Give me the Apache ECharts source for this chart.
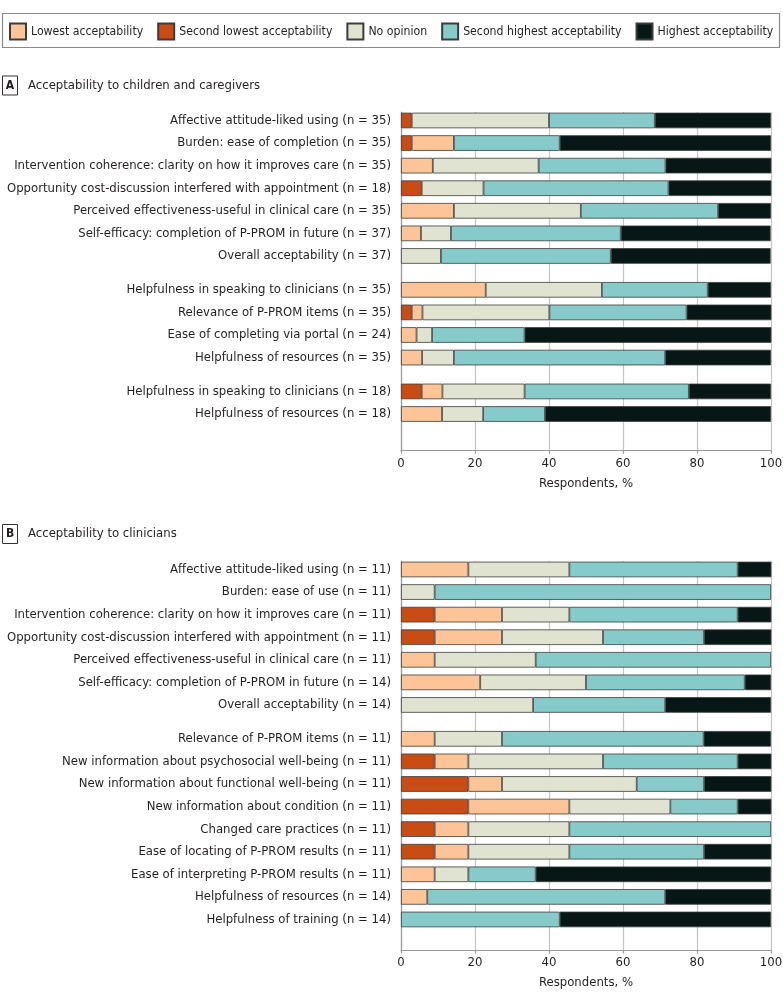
<!DOCTYPE html>
<html>
<head>
<meta charset="utf-8">
<script src="https://cdn.jsdelivr.net/npm/echarts@6/dist/echarts.min.js"></script>
<style>
html,body{margin:0;padding:0;background:#fff;}
#chart{width:783px;height:1006px;}
</style>
</head>
<body>
<div id="chart"></div>
<script>
// ---------------- DATA ----------------
const seriesNames = ['Second lowest acceptability', 'Lowest acceptability', 'No opinion', 'Second highest acceptability', 'Highest acceptability'];
const legendOrder = ['Lowest acceptability', 'Second lowest acceptability', 'No opinion', 'Second highest acceptability', 'Highest acceptability'];
const seriesColors = ['#C94C14', '#FDC597', '#E0E3CF', '#86CAC9', '#071716'];
const xTicks = [0, 20, 40, 60, 80, 100];
const xTitle = 'Respondents, %';

const titleA = 'Acceptability to children and caregivers';
const titleB = 'Acceptability to clinicians';

// Panel A
const labelsA = [
  'Affective attitude-liked using (n = 35)',
  'Burden: ease of completion (n = 35)',
  'Intervention coherence: clarity on how it improves care (n = 35)',
  'Opportunity cost-discussion interfered with appointment (n = 18)',
  'Perceived effectiveness-useful in clinical care (n = 35)',
  'Self-efficacy: completion of P-PROM in future (n = 37)',
  'Overall acceptability (n = 37)',
  'Helpfulness in speaking to clinicians (n = 35)',
  'Relevance of P-PROM items (n = 35)',
  'Ease of completing via portal (n = 24)',
  'Helpfulness of resources (n = 35)',
  'Helpfulness in speaking to clinicians (n = 18)',
  'Helpfulness of resources (n = 18)'
];
const groupSizesA = [7, 4, 2];
const secondLowestA  = [2.9, 2.9, 0,    5.6,  0,    0,    0,    0,    2.9,  0,    0,    5.6,  0];
const lowestA        = [0,   11.4, 8.6, 0,    14.3, 5.4,  0,    22.9, 2.9,  4.2,  5.7,  5.6,  11.1];
const noOpinionA     = [37.1, 0,   28.6, 16.7, 34.3, 8.1, 10.8, 31.4, 34.3, 4.2,  8.6,  22.2, 11.1];
const secondHighestA = [28.6, 28.6, 34.3, 50.0, 37.1, 45.9, 45.9, 28.6, 37.1, 25.0, 57.1, 44.4, 16.7];
const highestA       = [31.4, 57.1, 28.6, 27.8, 14.3, 40.5, 43.2, 17.1, 22.9, 66.7, 28.6, 22.2, 61.1];

// Panel B
const labelsB = [
  'Affective attitude-liked using (n = 11)',
  'Burden: ease of use (n = 11)',
  'Intervention coherence: clarity on how it improves care (n = 11)',
  'Opportunity cost-discussion interfered with appointment (n = 11)',
  'Perceived effectiveness-useful in clinical care (n = 11)',
  'Self-efficacy: completion of P-PROM in future (n = 14)',
  'Overall acceptability (n = 14)',
  'Relevance of P-PROM items (n = 11)',
  'New information about psychosocial well-being (n = 11)',
  'New information about functional well-being (n = 11)',
  'New information about condition (n = 11)',
  'Changed care practices (n = 11)',
  'Ease of locating of P-PROM results (n = 11)',
  'Ease of interpreting P-PROM results (n = 11)',
  'Helpfulness of resources (n = 14)',
  'Helpfulness of training (n = 14)'
];
const groupSizesB = [7, 9];
const secondLowestB  = [0,    0,    9.1,  9.1,  0,    0,    0,    0,    9.1,  18.2, 18.2, 9.1,  9.1,  0,    0,    0];
const lowestB        = [18.2, 0,    18.2, 18.2, 9.1,  21.4, 0,    9.1,  9.1,  9.1,  27.3, 9.1,  9.1,  9.1,  7.1,  0];
const noOpinionB     = [27.3, 9.1,  18.2, 27.3, 27.3, 28.6, 35.7, 18.2, 36.4, 36.4, 27.3, 27.3, 27.3, 9.1,  0,    0];
const secondHighestB = [45.5, 90.9, 45.5, 27.3, 63.6, 42.9, 35.7, 54.5, 36.4, 18.2, 18.2, 54.5, 36.4, 18.2, 64.3, 42.9];
const highestB       = [9.1,  0,    9.1,  18.2, 0,    7.1,  28.6, 18.2, 9.1,  18.2, 9.1,  0,    18.2, 63.6, 28.6, 57.1];

// ---------------- LAYOUT HELPERS ----------------
const FONT = "'DejaVu Sans Condensed', 'Liberation Sans Narrow', sans-serif";
const TXT = '#231f20';
const FS = 13;
const SLOT = 5.645;          // px per sub-slot; a row takes 4 sub-slots, a group gap adds 6
const ROW_STEP = 4, GROUP_STEP = 6;

function buildSlots(labels, groupSizes, total) {
  const cats = new Array(total).fill('');
  const pos = [];
  let k = 1, idx = 0;
  groupSizes.forEach((g) => {
    for (let i = 0; i < g; i++) {
      pos.push(k);
      cats[k] = labels[idx++];
      if (i < g - 1) k += ROW_STEP;
    }
    k += GROUP_STEP;
  });
  return { cats, pos };
}
function spread(values, pos, total) {
  const arr = new Array(total).fill('-');
  values.forEach((v, i) => { arr[pos[i]] = v === 0 ? '-' : v; });
  return arr;
}

const NA = 60, NB = 69;
const slotsA = buildSlots(labelsA, groupSizesA, NA);
const slotsB = buildSlots(labelsB, groupSizesB, NB);
const valsA = [secondLowestA, lowestA, noOpinionA, secondHighestA, highestA];
const valsB = [secondLowestB, lowestB, noOpinionB, secondHighestB, highestB];

const gridA = { left: 401, width: 370, top: 112, height: NA * SLOT, containLabel: false, outerBoundsMode: 'none' };
const gridB = { left: 401, width: 370, top: 561, height: NB * SLOT, containLabel: false, outerBoundsMode: 'none' };

function xAxisDef(gi) {
  return {
    type: 'value', gridIndex: gi, min: 0, max: 100, interval: 20,
    name: xTitle, nameLocation: 'middle', nameGap: 26,
    nameTextStyle: { fontFamily: FONT, fontSize: FS, color: TXT },
    axisLine: { show: true, lineStyle: { color: '#9a9a9a', width: 1.2 } },
    axisTick: { show: true, length: 3, lineStyle: { color: '#9a9a9a', width: 1.2 } },
    axisLabel: { fontFamily: FONT, fontSize: FS, color: TXT, margin: 6 },
    splitLine: { show: true, lineStyle: { color: '#c4c4c4', width: 1.2 } }
  };
}
function yAxisDef(gi, cats) {
  return {
    type: 'category', gridIndex: gi, data: cats, inverse: true,
    axisLine: { show: true, lineStyle: { color: '#9a9a9a', width: 1.2 } },
    axisTick: { show: false },
    axisLabel: { interval: 0, fontFamily: FONT, fontSize: FS, color: TXT, margin: 10 },
    splitLine: { show: false }
  };
}

const series = [];
[[valsA, slotsA, NA, 0, 'A'], [valsB, slotsB, NB, 1, 'B']].forEach(([vals, slots, N, gi, st]) => {
  seriesNames.forEach((name, si) => {
    series.push({
      name: name, type: 'bar', stack: st, xAxisIndex: gi, yAxisIndex: gi,
      barWidth: 15.6,
      itemStyle: { color: seriesColors[si], borderColor: '#3c3c3c', borderWidth: 0.8 },
      emphasis: { disabled: true },
      data: spread(vals[si], slots.pos, N)
    });
  });
});

function header(letter, text, yc) {
  return [
    { type: 'rect', shape: { x: 2.5, y: yc - 9.5, width: 15, height: 19 },
      style: { fill: '#fff', stroke: '#333', lineWidth: 1 } },
    { type: 'text', x: 10, y: yc, style: { text: letter, font: 'bold 12px ' + FONT, fill: TXT, align: 'center', verticalAlign: 'middle' } },
    { type: 'text', x: 28, y: yc, style: { text: text, font: FS + 'px ' + FONT, fill: TXT, align: 'left', verticalAlign: 'middle' } }
  ];
}

const option = {
  animation: false,
  backgroundColor: '#fff',
  textStyle: { fontFamily: FONT },
  legend: {
    data: legendOrder, left: 9, top: 22.5, padding: 0, itemGap: 14,
    itemWidth: 16, itemHeight: 16, icon: 'rect', selectedMode: false, width: 774,
    textStyle: { fontFamily: FONT, fontSize: 12.2, color: TXT }
  },
  graphic: [
    { type: 'rect', shape: { x: 2.5, y: 13.5, width: 777, height: 34 },
      style: { fill: 'none', stroke: '#8a8a8a', lineWidth: 1.2 } },
    ...header('A', titleA, 85.5),
    ...header('B', titleB, 534)
  ],
  grid: [gridA, gridB],
  xAxis: [xAxisDef(0), xAxisDef(1)],
  yAxis: [yAxisDef(0, slotsA.cats), yAxisDef(1, slotsB.cats)],
  series: series
};

const chart = echarts.init(document.getElementById('chart'), null, { renderer: 'canvas' });
chart.setOption(option);
</script>
</body>
</html>
